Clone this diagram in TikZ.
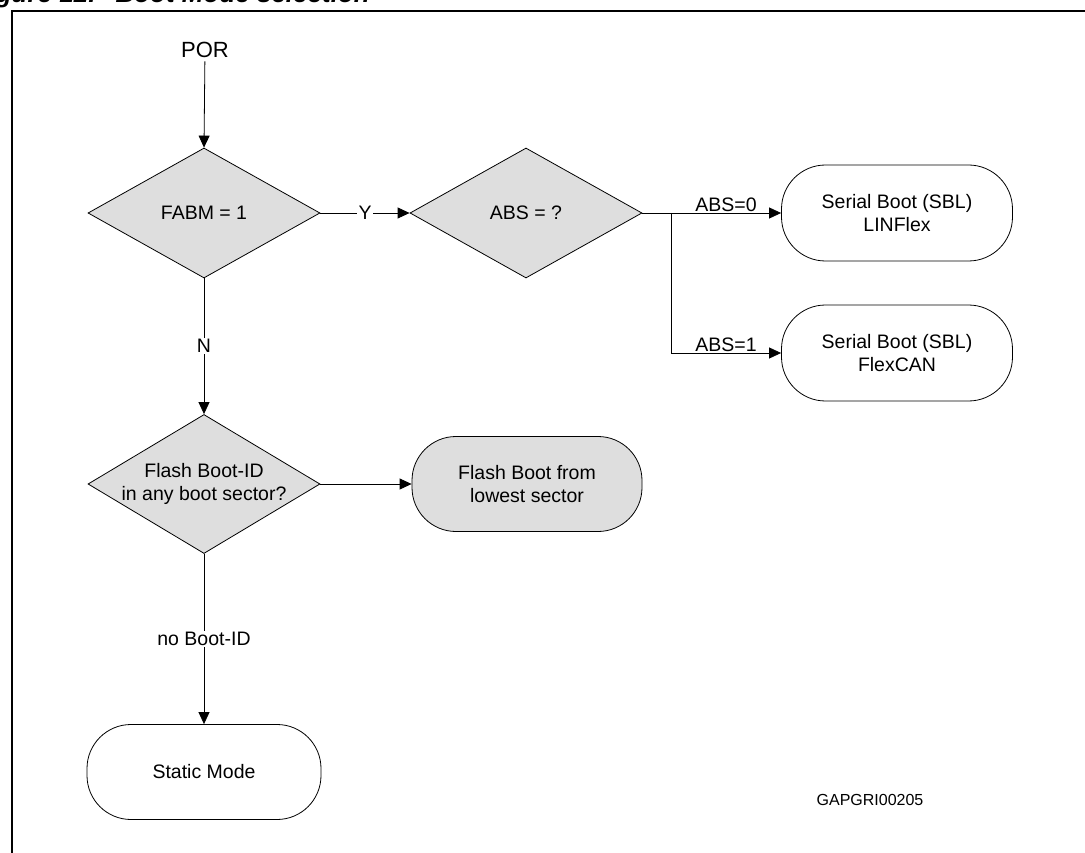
\documentclass[tikz,border=0pt]{standalone}
\usepackage{fontspec}
\setmainfont{Liberation Sans}
\usetikzlibrary{shapes.geometric,arrows.meta}
\definecolor{boxgray}{RGB}{222,222,222}
\begin{document}
\begin{tikzpicture}[x=1pt,y=-1pt,
  every node/.style={font=\fontsize{19.5}{23.5}\selectfont},
  decision/.style={diamond, draw, fill=boxgray, line width=0.8pt, inner sep=0pt,
    minimum width=232pt, minimum height=130pt, aspect=1.78},
  terminal/.style={rectangle, rounded corners=44pt, draw, line width=0.8pt,
    minimum width=231pt, minimum height=96pt, align=center, inner sep=0pt},
  conn/.style={line width=0.8pt},
  arr/.style={conn, -{Triangle[length=12pt,width=11pt]}},
  lbl/.style={fill=white, inner sep=1.5pt},
  edgelbl/.style={above, inner sep=1pt},
  frameline/.style={line width=2pt},
]
\useasboundingbox (0,0) rectangle (1085,853);
\clip (0,0) rectangle (1085,853);

% clipped title
\node[anchor=base east, inner sep=0pt,
  font=\fontsize{26}{30}\selectfont\bfseries\itshape] (title) at (370,3)
  {Figure 12.\hspace{20pt}Boot Mode selection};

% frame
\draw[frameline] (12,853) -- (12,11) -- (1085,11);

% nodes
\node[font=\fontsize{22}{26}\selectfont] (por) at (205,50) {POR};
\node[decision] (fabm) at (204,213) {FABM = 1};
\node[decision] (abs) at (526,213) {ABS = ?};
\node[terminal] (sbl1) at (897,213) {Serial Boot (SBL)\\LINFlex};
\node[terminal] (sbl2) at (897,353) {Serial Boot (SBL)\\FlexCAN};
\node[decision, minimum height=139pt,
  label={[align=center]center:Flash Boot-ID\\in any boot sector?}] (flash) at (204,484) {};
\node[terminal, fill=boxgray, minimum width=230pt, minimum height=95pt] (fb) at (527,484)
  {Flash Boot from\\lowest sector};
\node[terminal, minimum width=234pt, minimum height=95pt] (static) at (204,772) {Static Mode};
\node[font=\fontsize{16}{19}\selectfont] (code) at (870,800) {GAPGRI00205};
\coordinate (jct) at (671,213);

% connectors
\draw[arr] (por) -- (fabm.north);
\draw[arr] (fabm.east) -- node[lbl] {Y} (abs.west);
\draw[conn] (abs.east) -- (jct);
\draw[arr] (jct) -- node[edgelbl] {ABS=0} (sbl1.west);
\draw[arr] (jct) |- node[edgelbl, pos=0.75] {ABS=1} (sbl2.west);
\draw[arr] (fabm.south) -- node[lbl] {N} (flash.north);
\draw[arr] (flash.east) -- (fb.west);
\draw[arr] (flash.south) -- node[lbl] {no Boot-ID} (static.north);
\end{tikzpicture}
\end{document}
